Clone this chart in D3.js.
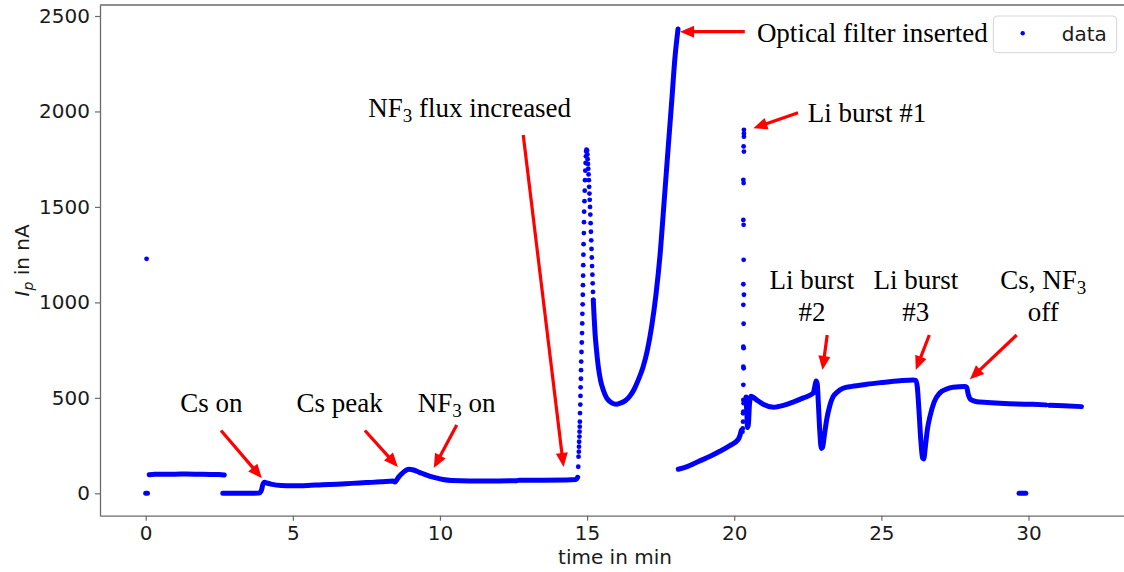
<!DOCTYPE html>
<html><head><meta charset="utf-8">
<script src="https://cdn.jsdelivr.net/npm/d3@7"></script>
<style>body{margin:0;background:#fff}svg{display:block}</style>
</head><body>
<svg id="chart" width="1124" height="572"></svg>
<script>
// ---------------- data (time in min, current in nA) ----------------
const xTicks = [0, 5, 10, 15, 20, 25, 30];
const yTicks = [0, 500, 1000, 1500, 2000, 2500];

const startZero = [[0.0, 0], [0.06, 0]];
const startOutlier = [[0.03, 1228]];
const firstPlateau = [[0.12, 97], [0.3, 100], [0.6, 100], [1.0, 100], [1.4, 101], [1.8, 100], [2.2, 99], [2.5, 99], [2.67, 96]];
const baseline = [[2.62, 0], [3.0, 0], [3.4, 0], [3.85, 1], [3.93, 15], [3.98, 45], [4.04, 58], [4.12, 54], [4.3, 47], [4.6, 41],
  [5.0, 39], [5.5, 41], [6.0, 45], [6.5, 48], [7.0, 52], [7.5, 56], [8.0, 60], [8.4, 65], [8.47, 59], [8.53, 70], [8.6, 86],
  [8.72, 105], [8.85, 121], [8.95, 126], [9.1, 122], [9.3, 110], [9.55, 95], [9.8, 83], [10.1, 72], [10.4, 67], [11.0, 65],
  [12.0, 65], [12.6, 66], [12.7, 69], [13.5, 69], [14.3, 70], [14.62, 72], [14.68, 84]];
const riseDots = [[14.70, 139], [14.71, 192], [14.72, 218], [14.725, 244], [14.73, 270], [14.74, 297], [14.745, 323], [14.75, 349],
  [14.755, 375], [14.76, 420], [14.77, 465], [14.775, 510], [14.78, 555], [14.79, 600], [14.795, 645], [14.80, 690], [14.81, 740],
  [14.82, 790], [14.83, 839], [14.835, 890], [14.84, 940], [14.85, 990], [14.855, 1040], [14.86, 1090], [14.865, 1140],
  [14.87, 1195], [14.875, 1250], [14.88, 1305], [14.89, 1363], [14.895, 1420], [14.90, 1475], [14.91, 1530], [14.92, 1585],
  [14.93, 1640], [14.94, 1690], [14.95, 1730], [14.96, 1765], [14.97, 1790], [14.98, 1800]];
const fallDots = [[15.0, 1795], [15.01, 1775], [15.02, 1750], [15.03, 1725], [15.04, 1700], [15.05, 1670], [15.06, 1640],
  [15.07, 1605], [15.08, 1570], [15.09, 1537], [15.10, 1500], [15.11, 1460], [15.12, 1415], [15.13, 1370], [15.14, 1325],
  [15.15, 1280], [15.16, 1235], [15.17, 1190], [15.18, 1145], [15.19, 1100], [15.20, 1055], [15.21, 1013]];
const valley = [[15.21, 1013], [15.24, 920], [15.27, 839], [15.32, 750], [15.38, 664], [15.46, 590], [15.55, 541], [15.66, 500],
  [15.78, 480], [15.9, 469], [16.0, 466], [16.12, 472], [16.29, 484], [16.45, 508], [16.6, 545], [16.73, 590], [16.9, 660],
  [17.05, 751], [17.2, 880], [17.34, 1040], [17.48, 1249], [17.61, 1511], [17.75, 1799], [17.88, 2061], [17.98, 2271], [18.09, 2432]];
const afterFilter = [[18.1, 126], [18.4, 140], [18.83, 170], [19.2, 195], [19.51, 220], [19.85, 250], [20.14, 283], [20.2, 305], [20.24, 330]];
const burstDots = [[20.33, 1904], [20.33, 1885], [20.33, 1868], [20.32, 1817], [20.33, 1790], [20.31, 1642], [20.32, 1625],
  [20.31, 1432], [20.32, 1406], [20.32, 1223], [20.31, 1095], [20.33, 1040], [20.31, 987], [20.32, 888], [20.31, 768],
  [20.32, 760], [20.31, 663], [20.32, 655], [20.31, 568], [20.31, 489], [20.32, 472], [20.31, 428], [20.3, 419], [20.3, 375],
  [20.29, 340], [20.28, 323]];
const afterBurst = [[20.40, 505], [20.43, 420], [20.45, 345], [20.48, 360], [20.52, 470], [20.57, 508], [20.62, 505], [20.8, 485],
  [21.0, 465], [21.33, 451], [21.7, 462], [22.0, 478], [22.35, 500], [22.68, 524], [22.74, 560], [22.78, 588], [22.82, 575],
  [22.86, 470], [22.91, 320], [22.96, 235], [23.0, 240], [23.06, 300], [23.14, 384], [23.25, 460], [23.36, 506], [23.5, 530],
  [23.7, 550], [24.0, 560], [24.5, 571], [25.0, 580], [25.63, 590], [26.08, 594], [26.17, 592], [26.22, 560], [26.28, 430],
  [26.34, 280], [26.4, 185], [26.44, 180], [26.5, 250], [26.57, 340], [26.65, 401], [26.8, 480], [26.98, 524], [27.2, 545],
  [27.44, 556], [27.83, 559], [27.9, 555], [27.95, 520], [28.0, 498], [28.06, 489], [28.24, 480], [28.6, 476], [29.03, 472],
  [29.6, 468], [30.15, 466], [30.6, 463]];
const tail = [[30.72, 461], [31.2, 458], [31.8, 454]];
const lateZero = [[29.68, 0], [29.74, 0], [29.86, 0], [29.91, 0]];

// ---------------- layout ----------------
const svg = d3.select("#chart");
const L = 100, R = 1130, T = 5, B = 515.7;
const x = d3.scaleLinear().domain([-1.553, 33.45]).range([L, R]);
const y = d3.scaleLinear().domain([-117.3, 2557.6]).range([B, T]);
const BLUE = "#0000ff", RED = "#ff0000";
const sans = "'DejaVu Sans', sans-serif";
const serif = "'Liberation Serif', 'Times New Roman', serif";

svg.append("defs").append("clipPath").attr("id", "plotclip")
  .append("rect").attr("x", L).attr("y", T).attr("width", R - L).attr("height", B - T);

// axes
const xAxis = svg.append("g").attr("transform", `translate(0,${B})`)
  .call(d3.axisBottom(x).tickValues(xTicks).tickFormat(d3.format("d")).tickSizeInner(5).tickSizeOuter(0).tickPadding(5));
const yAxis = svg.append("g").attr("transform", `translate(${L},0)`)
  .call(d3.axisLeft(y).tickValues(yTicks).tickFormat(d3.format("d")).tickSizeInner(5).tickSizeOuter(0).tickPadding(5));
[xAxis, yAxis].forEach(g => {
  g.selectAll("path.domain").attr("stroke", "#6a6a6a").attr("stroke-width", 1.3);
  g.selectAll(".tick line").attr("stroke", "#6a6a6a").attr("stroke-width", 1.2);
  g.selectAll(".tick text").attr("fill", "#1a1a1a").style("font-family", sans).style("font-size", "20px");
});
svg.append("line").attr("x1", L).attr("x2", R).attr("y1", T).attr("y2", T)
  .attr("stroke", "#6a6a6a").attr("stroke-width", 1.3);

// axis labels
svg.append("text").attr("x", (L + R) / 2).attr("y", 564).attr("text-anchor", "middle")
  .style("font-family", sans).style("font-size", "20px").attr("fill", "#1a1a1a").text("time in min");
const yl = svg.append("text").attr("transform", `translate(29,${(T + B) / 2}) rotate(-90)`)
  .attr("text-anchor", "middle").style("font-family", sans).style("font-size", "20px").attr("fill", "#1a1a1a");
yl.append("tspan").style("font-style", "italic").text("I");
yl.append("tspan").style("font-style", "italic").style("font-size", "14px").attr("dy", 4).text("p");
yl.append("tspan").attr("dy", -4).text(" in nA");

// data marks
const plot = svg.append("g").attr("clip-path", "url(#plotclip)");
const line = d3.line().x(d => x(d[0])).y(d => y(d[1])).curve(d3.curveMonotoneX);
[startZero, firstPlateau, baseline, valley, afterFilter, afterBurst, tail, lateZero].forEach(seg => {
  plot.append("path").datum(seg).attr("d", line).attr("fill", "none").attr("stroke", BLUE)
    .attr("stroke-width", 5).attr("stroke-linecap", "round").attr("stroke-linejoin", "round");
});
[startOutlier, riseDots, fallDots, burstDots].forEach(seg => {
  plot.selectAll(null).data(seg).enter().append("circle")
    .attr("cx", d => x(d[0])).attr("cy", d => y(d[1])).attr("r", 2.4).attr("fill", BLUE);
});

// annotations: text parts [string, isSub]
const notes = [
  {lines: [[["Optical filter inserted", 0]]], at: [20.77, 2364], anchor: "start", from: [20.36, 2418], to: [18.16, 2418]},
  {lines: [[["Li burst #1", 0]]], at: [22.5, 1945], anchor: "start", from: [22.17, 1993], to: [20.65, 1912]},
  {lines: [[["NF", 0], ["3", 1], [" flux increased", 0]]], at: [7.56, 1973], anchor: "start", from: [12.83, 1877], to: [14.2, 138]},
  {lines: [[["Cs on", 0]]], at: [2.23, 424], anchor: "middle", from: [2.56, 329], to: [3.95, 79]},
  {lines: [[["Cs peak", 0]]], at: [6.59, 424], anchor: "middle", from: [7.45, 329], to: [8.57, 138]},
  {lines: [[["NF", 0], ["3", 1], [" on", 0]]], at: [10.57, 424], anchor: "middle", from: [10.57, 358], to: [9.79, 133]},
  {lines: [[["Li burst", 0]], [["#2", 0]]], at: [22.64, 1068], anchor: "middle", from: [23.16, 829], to: [23.0, 646]},
  {lines: [[["Li burst", 0]], [["#3", 0]]], at: [26.17, 1068], anchor: "middle", from: [26.63, 829], to: [26.17, 646]},
  {lines: [[["Cs, NF", 0], ["3", 1]], [["off", 0]]], at: [30.5, 1068], anchor: "middle", from: [29.6, 829], to: [28.01, 597]}
];
const ann = svg.append("g");
notes.forEach(n => {
  n.lines.forEach((parts, li) => {
    const t = ann.append("text").attr("x", x(n.at[0])).attr("y", y(n.at[1]) + li * 31.4)
      .attr("text-anchor", n.anchor).style("font-family", serif).style("font-size", "27px").attr("fill", "#000");
    let shifted = false;
    parts.forEach(([s, sub]) => {
      const ts = t.append("tspan").text(s);
      if (sub) { ts.attr("dy", 5).style("font-size", "19px"); shifted = true; }
      else if (shifted) { ts.attr("dy", -5); shifted = false; }
    });
  });
  const x1 = x(n.from[0]), y1 = y(n.from[1]), x2 = x(n.to[0]), y2 = y(n.to[1]);
  const dx = x2 - x1, dy = y2 - y1, len = Math.hypot(dx, dy), ux = dx / len, uy = dy / len;
  const hl = 14, hw = 6;
  const bx = x2 - ux * hl, by = y2 - uy * hl;
  ann.append("line").attr("x1", x1).attr("y1", y1).attr("x2", bx + ux * 1).attr("y2", by + uy * 1)
    .attr("stroke", RED).attr("stroke-width", 3.2);
  ann.append("path").attr("d", `M${x2},${y2}L${bx - uy * hw},${by + ux * hw}L${bx + uy * hw},${by - ux * hw}Z`).attr("fill", RED);
});

// legend
const lg = svg.append("g");
lg.append("rect").attr("x", 993.3).attr("y", 16).attr("width", 123.4).attr("height", 36.7).attr("rx", 4)
  .attr("fill", "#fff").attr("fill-opacity", 0.8).attr("stroke", "#d5d5d5").attr("stroke-width", 1);
lg.append("circle").attr("cx", 1022.7).attr("cy", 33.3).attr("r", 2.2).attr("fill", BLUE);
lg.append("text").attr("x", 1061.7).attr("y", 40.5).style("font-family", sans).style("font-size", "20px")
  .attr("fill", "#1a1a1a").text("data");
</script>
</body></html>
